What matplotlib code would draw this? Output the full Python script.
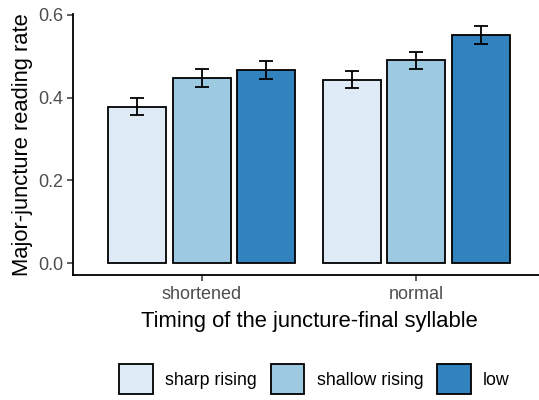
import matplotlib
matplotlib.use("Agg")
import matplotlib.pyplot as plt
from matplotlib.patches import Patch
import numpy as np

groups = ["shortened", "normal"]
contours = ["sharp rising", "shallow rising", "low"]
colors = ["#DEEBF7", "#9ECAE1", "#3182BD"]

# mean rate per contour, one entry per group (shortened, normal)
means = [
    [0.378, 0.443],
    [0.447, 0.490],
    [0.466, 0.551],
]
errs = [
    [0.021, 0.021],
    [0.021, 0.021],
    [0.022, 0.022],
]

plt.rcParams["font.family"] = ["Liberation Sans", "DejaVu Sans"]

fig = plt.figure(figsize=(5.39, 4.0), dpi=100)
ax = fig.add_axes([73 / 539, 1 - 275 / 400, (545 - 73) / 539, (275 - 14) / 400])

x = np.arange(1, len(groups) + 1)
offsets = [-0.3, 0.0, 0.3]
for i in range(len(contours)):
    ax.bar(x + offsets[i], means[i], width=0.27, color=colors[i],
           edgecolor="black", linewidth=1.3, zorder=2)
    ax.errorbar(x + offsets[i], means[i], yerr=errs[i], fmt="none",
                ecolor="black", elinewidth=1.3, capsize=5, capthick=1.3, zorder=3)

ax.set_xlim(0.4, 2.6)
ax.set_ylim(-0.0287, 0.6017)
ax.set_yticks([0.0, 0.2, 0.4, 0.6])
ax.set_yticklabels(["0.0", "0.2", "0.4", "0.6"])
ax.set_xticks(x)
ax.set_xticklabels(groups)

for s in ["top", "right"]:
    ax.spines[s].set_visible(False)
for s in ["left", "bottom"]:
    ax.spines[s].set_linewidth(1.3)
    ax.spines[s].set_color("black")

ax.tick_params(axis="both", colors="#333333", length=4, width=1.1,
               labelsize=13, labelcolor="#4D4D4D", pad=3)
ax.tick_params(axis="x", pad=4)

ax.set_xlabel("Timing of the juncture-final syllable", fontsize=15.8, labelpad=6)
ax.set_ylabel("Major-juncture reading rate", fontsize=15.8, labelpad=4)

handles = [Patch(facecolor=colors[i], edgecolor="black", linewidth=1.3, label=contours[i])
           for i in range(len(contours))]
fig.legend(handles=handles, loc="center", bbox_to_anchor=(0.5835, 0.0525), ncol=3,
           frameon=False, fontsize=12.8, handlelength=1.9, handleheight=2.2,
           handletextpad=0.7, columnspacing=0.75)

fig.savefig("out.png", dpi=100)
